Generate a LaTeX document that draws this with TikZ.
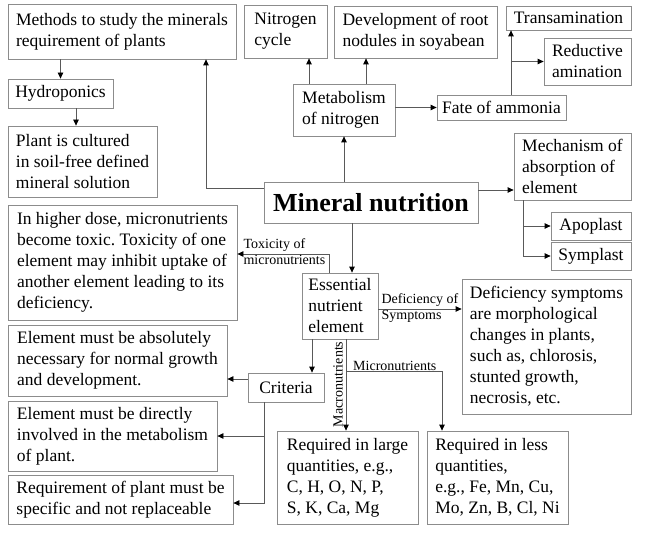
\documentclass[tikz,border=0pt]{standalone}
\usepackage{fontspec}
\setmainfont{Liberation Serif}
\usetikzlibrary{arrows.meta,calc}
\hyphenpenalty=10000
\frenchspacing
\tikzset{
  box/.style={draw=black!45, line width=0.8pt, inner xsep=3pt, inner ysep=0pt, align=left, font=\fontsize{17.5}{21}\selectfont, anchor=center},
  conn/.style={draw=black!65, line width=0.8pt, -{Triangle[length=6pt,width=5.5pt,color=black]}},
  lbl/.style={font=\fontsize{14}{15}\selectfont, inner sep=0pt}
}
\newcommand{\bx}[6]{\node[box, minimum width=#4pt, minimum height=#5pt] (#1) at (#2,#3) {#6};}
\begin{document}
\begin{tikzpicture}[x=1pt,y=-1pt]
\useasboundingbox (0,0) rectangle (650,540);
% boxes: name, cx, cy, w, h, text
\bx{methods}{122}{31.5}{228}{55}{Methods to study the minerals\\requirement of plants}
\bx{ncycle}{285.5}{31.5}{83}{53}{Nitrogen\\cycle}
\bx{devel}{415.5}{32}{163}{52}{Development of root\\nodules in soyabean}
\bx{trans}{568.5}{18}{125}{24}{Transamination}
\bx{reduct}{587.5}{61.5}{87}{47}{Reductive\\amination}
\bx{metab}{344}{110}{102}{52}{Metabolism\\of nitrogen}
\bx{fate}{501.5}{107.5}{129}{25}{Fate of ammonia}
\bx{mech}{572.5}{166.5}{117}{67}{Mechanism of\\absorption of\\element}
\bx{apo}{591}{226}{80}{28}{Apoplast}
\bx{sym}{591}{256}{80}{28}{Symplast}
\bx{defsym}{546.5}{346.5}{169}{135}{Deficiency symptoms\\are morphological\\changes in plants,\\such as, chlorosis,\\stunted growth,\\necrosis, etc.}
\node[box, minimum width=214pt, minimum height=41pt, align=center, font=\fontsize{26}{28}\selectfont\bfseries] (mineral) at (371,202.5) {Mineral nutrition};
\bx{hydro}{60.5}{93.5}{105}{29}{Hydroponics}
\bx{plant}{82.5}{161.5}{149}{71}{Plant is cultured\\in soil-free defined\\mineral solution}
\bx{tox}{122.5}{262.5}{229}{115}{In higher dose, micronutrients\\become toxic. Toxicity of one\\element may inhibit uptake of\\another element leading to its\\deficiency.}
\bx{abs}{117.5}{360.5}{219}{71}{Element must be absolutely\\necessary for normal growth\\and development.}
\bx{crit}{286}{387.5}{76}{29}{Criteria}
\bx{direct}{112.5}{436}{209}{70}{Element must be directly\\involved in the metabolism\\of plant.}
\bx{req}{120.5}{499.5}{225}{49}{Requirement of plant must be\\specific and not replaceable}
\bx{large}{347.5}{477.5}{141}{93}{Required in large\\quantities, e.g.,\\C, H, O, N, P,\\S, K, Ca, Mg}
\bx{less}{497.5}{477.5}{141}{93}{Required in less\\quantities,\\e.g., Fe, Mn, Cu,\\Mo, Zn, B, Cl, Ni}
\bx{ess}{340}{306}{76}{66}{Essential\\nutrient\\element}
% helper coordinates
\coordinate (mw) at ([yshift=14.5pt]mineral.west);
\coordinate (ms) at ([xshift=84pt]methods.south);
\coordinate (hs) at ([xshift=15.5pt]hydro.south);
\coordinate (mn1) at ([xshift=-35pt]metab.north);
\coordinate (mn2) at ([xshift=22pt]metab.north);
\coordinate (fn) at ([xshift=9.5pt]fate.north);
\coordinate (me) at ([yshift=12.5pt]mineral.east);
\coordinate (mechs) at ([xshift=-49.5pt]mech.south);
\coordinate (en) at ([xshift=12pt]ess.north);
\coordinate (tn) at ([xshift=-11pt]ess.north);
\coordinate (te) at ([yshift=8.5pt]tox.east);
\coordinate (ee) at ([yshift=-3pt]ess.east);
\coordinate (es1) at ([xshift=-28pt]ess.south);
\coordinate (es2) at ([xshift=6pt]ess.south);
\coordinate (mb) at ([xshift=6pt,yshift=-32pt]ess.south);
\coordinate (ln) at ([xshift=-55.5pt]less.north);
\coordinate (cw) at ([yshift=8.5pt]crit.west);
\coordinate (cs) at ([xshift=-22pt]crit.south);
\coordinate (re) at ([yshift=-3.5pt]req.east);
% connectors
\draw[conn] (hydro.north |- methods.south) -- (hydro.north);
\draw[conn] (hs) -- (hs |- plant.north);
\draw[conn] (mw) -| (ms);
\draw[conn] (mineral.north -| metab.south) -- (metab.south);
\draw[conn] (mn1) -- (mn1 |- ncycle.south);
\draw[conn] (mn2) -- (mn2 |- devel.south);
\draw[conn] (fate.west -| metab.east) -- (fate.west);
\draw[conn] (fn) -- (fn |- trans.south);
\draw[conn] (fn |- reduct.west) -- (reduct.west);
\draw[conn] (me) -- (me -| mech.west);
\draw[conn] (mechs) |- (sym.west);
\draw[conn] (mechs |- apo.west) -- (apo.west);
\draw[conn] (en |- mineral.south) -- (en);
\draw[conn] (tn) |- (te);
\node[lbl, anchor=south west] (tl1) at ([xshift=6pt,yshift=2pt]te) {Toxicity of};
\node[lbl, anchor=north west] (tl2) at ([xshift=6pt,yshift=-1pt]te) {micronutrients};
\draw[conn] (ee) -- (ee -| defsym.west);
\node[lbl, anchor=south west] (dl1) at ([xshift=3pt,yshift=2pt]ee) {Deficiency of};
\node[lbl, anchor=north west] (dl2) at ([xshift=3pt,yshift=-1pt]ee) {Symptoms};
\draw[conn] (es1) -- (es1 |- crit.north);
\draw[conn] (es2) -- (es2 |- large.north);
\node[lbl, rotate=90, anchor=south] (macl) at ([xshift=-3pt,yshift=-45pt]es2) {Macronutrients};
\draw[conn] (mb) -| (ln);
\node[lbl, anchor=south west] (micl) at ([xshift=7pt,yshift=1pt]mb) {Micronutrients};
\draw[conn] (cw) -- (cw -| abs.east);
\draw[conn] (cs) |- (re);
\draw[conn] (cs |- direct.east) -- (direct.east);
\end{tikzpicture}
\end{document}
